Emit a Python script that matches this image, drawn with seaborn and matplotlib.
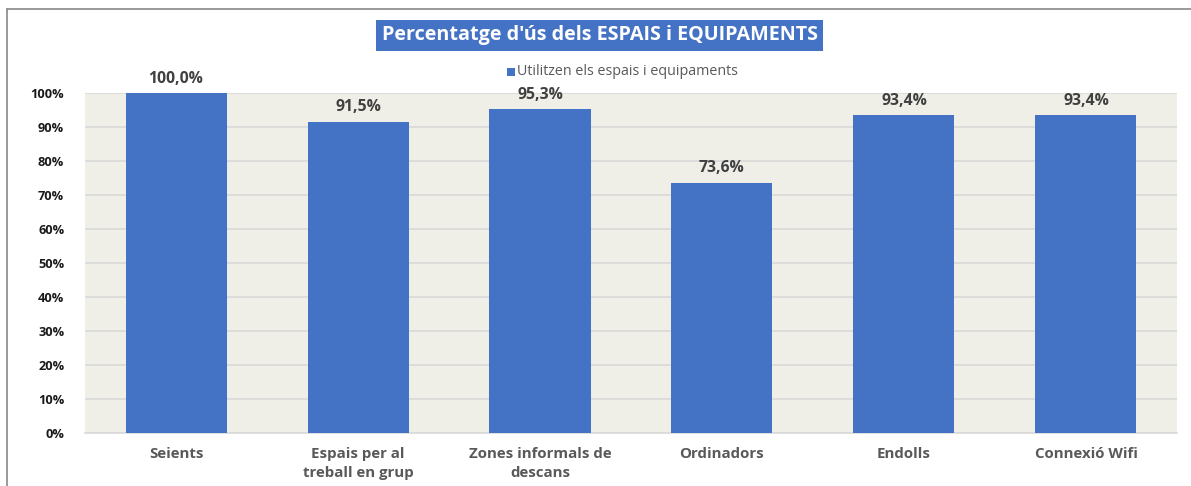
import matplotlib.pyplot as plt
import seaborn as sns
import pandas as pd
from matplotlib.patches import Rectangle

sns.set_style('white')
plt.rcParams['font.family'] = ['Open Sans', 'DejaVu Sans']

categories = ['Seients', 'Espais per al\ntreball en grup', 'Zones informals de\ndescans',
              'Ordinadors', 'Endolls', 'Connexió Wifi']
values = [100.0, 91.5, 95.3, 73.6, 93.4, 93.4]
series_name = 'Utilitzen els espais i equipaments'
yticks = [0, 10, 20, 30, 40, 50, 60, 70, 80, 90, 100]

df = pd.DataFrame({'cat': categories, 'val': values})

blue = '#4472C4'
fig = plt.figure(figsize=(11.91, 4.86), dpi=100)
ax = fig.add_axes([0.0714, 0.109, 0.9168, 0.700])
ax.set_facecolor('#EFEEE7')

sns.barplot(data=df, x='cat', y='val', color=blue, width=0.555, saturation=1, ax=ax, zorder=3,
            edgecolor='none', linewidth=0)
ax.set_xlim(-0.5, 5.5)
ax.set_ylim(0, 100)
ax.set_yticks(yticks)
ax.set_yticklabels([f'{t}%' for t in yticks], fontsize=9.2, fontweight='bold', color='#1a1a1a')
ax.set_xticks(range(len(categories)))
ax.set_xticklabels(categories, fontsize=10.8, fontweight='bold', color='#595959', linespacing=1.45)
ax.tick_params(axis='both', length=0)
ax.tick_params(axis='x', pad=10)
ax.tick_params(axis='y', pad=15)
ax.set_xlabel('')
ax.set_ylabel('')
ax.yaxis.grid(True, color='#D9D9D9', linewidth=1.2, zorder=0)
for s in ['top', 'right', 'left']:
    ax.spines[s].set_visible(False)
ax.spines['bottom'].set_color('#D9D9D9')
ax.spines['bottom'].set_linewidth(1.2)

for i, v in enumerate(values):
    ax.annotate(f'{v:.1f}%'.replace('.', ','), (i, v), xytext=(0, 4.5), textcoords='offset points',
                ha='center', va='bottom', fontsize=11.3, fontweight='bold', color='#404040',
                clip_on=False, annotation_clip=False)

# title in a blue box
fig.text(0.5035, 0.927, "Percentatge d'ús dels ESPAIS i EQUIPAMENTS", ha='center', va='center',
         fontsize=14.2, fontweight='bold', color='white',
         bbox=dict(boxstyle='square,pad=0.27', facecolor=blue, edgecolor='none'))

# legend
fig.patches.append(Rectangle((507 / 1191, 1 - 76 / 486), 8 / 1191, 8 / 486,
                             transform=fig.transFigure, facecolor=blue, edgecolor='none'))
fig.text(517 / 1191, 1 - 71 / 486, series_name, ha='left', va='center', fontsize=10.3, color='#595959')

# outer border
fig.add_artist(plt.Line2D([7 / 1191, 7 / 1191], [0, 1 - 9 / 486], transform=fig.transFigure,
                          color='#888888', linewidth=1.2))
fig.add_artist(plt.Line2D([7 / 1191, 1], [1 - 9 / 486, 1 - 9 / 486], transform=fig.transFigure,
                          color='#888888', linewidth=1.2))

fig.savefig('out.png', dpi=100)
